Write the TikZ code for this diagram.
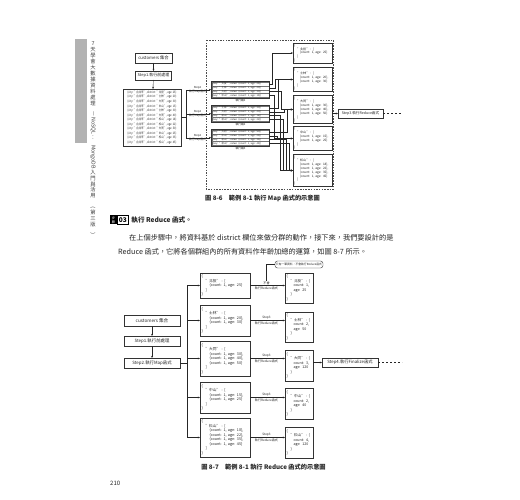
\documentclass[tikz,border=0pt]{standalone}
\usepackage{fontspec}
\setmainfont{Noto Sans CJK TC}
\usetikzlibrary{arrows.meta,fit,calc,shadows}
\newcommand\fsz[2]{\fontsize{#1}{#2}\selectfont}
\newcommand\ind[1]{\hspace*{#1pt}}
\newcommand\recline[2]{\{city: "台北市", district: "#1", age: #2\}}
\newcommand\emitline[2]{\{key: "#1", value: \{count: 1, age: #2\}\}}
\newcommand\cnt[1]{\{count: 1, age: #1\}}
\begin{document}
\begin{tikzpicture}[x=1pt,y=-1pt,
  bx/.style={draw=black!80, line width=0.45pt, fill=white, inner sep=0.6pt, outer sep=0pt, text=black!85},
  sbx/.style={bx, drop shadow={shadow xshift=0.6pt, shadow yshift=-0.6pt, fill=black!45, opacity=1}},
  arr/.style={-{Stealth[length=2.2pt,width=1.8pt]}, line width=0.4pt, draw=black!85},
  ln/.style={line width=0.4pt, draw=black!85},
  rowbox/.style={draw=black!55, line width=0.2pt, text width=56pt, minimum height=3.5pt, inner sep=0.3pt, align=left, font=\fsz{2.45}{3}, text=black!85},
  grp/.style={draw=black!80, line width=0.55pt, inner sep=0.7pt},
  lbl/.style={font=\fsz{2.8}{3.2}, inner sep=0.2pt, text=black!85},
  lblb/.style={font=\fsz{3.1}{3.5}, inner sep=0.2pt, text=black!85},
  rbx/.style={sbx, minimum width=39pt, text width=37pt, align=left, font=\fsz{3.1}{3.8}, inner sep=1pt},
  mbx/.style={sbx, text width=47pt, inner sep=1.5pt, align=left, font=\fsz{3.7}{4.5}},
  nbx/.style={sbx, text width=25pt, inner sep=1.5pt, align=left, font=\fsz{3.6}{4.5}},
  captext/.style={font=\bfseries\fsz{6.2}{7}, inner sep=0.5pt, text=black!85},
]
\fill[white] (0,0) rectangle (520,500);
\useasboundingbox (0,0) rectangle (520,500);

% ---------- side bar ----------
\fill[black!30] (75,39) rectangle (87,143);
\node[anchor=north, align=center, font=\fsz{5.3}{5.95}, inner sep=0, text=black!75] (side) at (93,42)
 {\lineskip=0pt 7\\天\\學\\會\\大\\數\\據\\資\\料\\處\\理\\\rotatebox{-90}{—}\\\rotatebox{-90}{NoSQL}\\：\\\rotatebox{-90}{MongoDB}\\入\\門\\與\\活\\用\\\rotatebox{-90}{（}\\第\\三\\版\\\rotatebox{-90}{）}};

% ---------- figure 8-6 ----------
\draw[dashed, line width=0.45pt, dash pattern=on 1.5pt off 1.2pt, black!70] (206,40) rectangle (333.5,189);

\node[sbx, minimum width=37pt, minimum height=10pt, font=\fsz{4.3}{5}] (cA) at (153.5,58) {customers 集合};
\node[sbx, minimum width=36pt, minimum height=9pt, font=\fsz{4}{5}] (sA) at (153.5,75.5) {Step1.執行前處理};
\node[sbx, minimum width=58pt, minimum height=57pt, inner sep=0.8pt, font=\fsz{3.1}{4.55}] (rec) at (152,117.5)
 {\scalebox{0.78}[1]{\begin{tabular}{@{}l@{}}
 \recline{北投}{25}\\ \recline{士林}{20}\\ \recline{大同}{30}\\ \recline{中山}{15}\\
 \recline{士林}{30}\\ \recline{大同}{40}\\ \recline{松山}{18}\\ \recline{松山}{22}\\
 \recline{大同}{50}\\ \recline{中山}{25}\\ \recline{松山}{35}\\ \recline{松山}{45}
 \end{tabular}}};
\draw[arr] (cA) -- (sA);
\draw[arr] (sA) -- (rec);

% groups
\node[rowbox] (g1a) at (240.5,84.2) {\emitline{北投}{25}};
\node[rowbox] (g1b) at (240.5,87.9) {\emitline{士林}{20}};
\node[rowbox] (g1c) at (240.5,91.6) {\emitline{大同}{30}};
\node[rowbox] (g1d) at (240.5,95.3) {\emitline{中山}{15}};
\node[grp, fit=(g1a)(g1d)] (g1) {};
\node[lbl] (g1t) at (240.5,100.4) {執行緒1};

\node[rowbox] (g2a) at (240.5,108.2) {\emitline{士林}{30}};
\node[rowbox] (g2b) at (240.5,111.9) {\emitline{大同}{40}};
\node[rowbox] (g2c) at (240.5,115.6) {\emitline{松山}{18}};
\node[rowbox] (g2d) at (240.5,119.3) {\emitline{松山}{22}};
\node[grp, fit=(g2a)(g2d)] (g2) {};
\node[lbl] (g2t) at (240.5,124.4) {執行緒2};

\node[rowbox] (g3a) at (240.5,132.2) {\emitline{大同}{50}};
\node[rowbox] (g3b) at (240.5,135.9) {\emitline{中山}{25}};
\node[rowbox] (g3c) at (240.5,139.6) {\emitline{松山}{35}};
\node[rowbox] (g3d) at (240.5,143.3) {\emitline{松山}{45}};
\node[grp, fit=(g3a)(g3d)] (g3) {};
\node[lbl] (g3t) at (240.5,148.4) {執行緒3};

\draw[ln] (rec.east) -- ++(5,0) coordinate (tA);
\draw[arr] (tA) |- (g1.west);
\draw[arr] (tA) |- (g2.west);
\draw[arr] (tA) |- (g3.west);
\node[lbl] (s2u1) at (197.5,87.6) {Step2};
\node[lbl] (s2d1) at (197.5,91.9) {執行Map函式};
\node[lbl] (s2u2) at (197.5,111.6) {Step2};
\node[lbl] (s2d2) at (197.5,115.9) {執行Map函式};
\node[lbl] (s2u3) at (197.5,135.6) {Step2};
\node[lbl] (s2d3) at (197.5,139.9) {執行Map函式};

% result boxes
\node[rbx, minimum height=20pt] (r1) at (312.5,53)
 {\{\\\ind{3}"北投" : [\\\ind{6}\cnt{25}\\\ind{3}]\\\}};
\node[rbx, minimum height=23pt] (r2) at (312.5,79.5)
 {\{\\\ind{3}"士林" : [\\\ind{6}\cnt{20},\\\ind{6}\cnt{30}\\\ind{3}]\\\}};
\node[rbx, minimum height=27pt] (r3) at (312.5,109.5)
 {\{\\\ind{3}"大同" : [\\\ind{6}\cnt{30},\\\ind{6}\cnt{40},\\\ind{6}\cnt{50}\\\ind{3}]\\\}};
\node[rbx, minimum height=23pt] (r4) at (312.5,138.5)
 {\{\\\ind{3}"中山" : [\\\ind{6}\cnt{15},\\\ind{6}\cnt{25}\\\ind{3}]\\\}};
\node[rbx, minimum height=31pt] (r5) at (312.5,170.5)
 {\{\\\ind{3}"松山" : [\\\ind{6}\cnt{18},\\\ind{6}\cnt{22},\\\ind{6}\cnt{35},\\\ind{6}\cnt{45}\\\ind{3}]\\\}};

\draw[arr] (g1a.east) -- ++(3,0) |- (r1.west);
\draw[arr] (g1b.east) -- ++(6,0) |- (r2.west);
\draw[arr] (g2a.east) -- ++(9,0) |- (r2.west);
\draw[arr] (g1c.east) -- ++(12,0) |- (r3.west);
\draw[arr] (g2b.east) -- ++(15,0) |- (r3.west);
\draw[arr] (g3a.east) -- ++(18,0) |- (r3.west);
\draw[arr] (g1d.east) -- ++(5,0) |- (r4.west);
\draw[arr] (g3b.east) -- ++(8,0) |- (r4.west);
\draw[arr] (g2c.east) -- ++(11,0) |- (r5.west);
\draw[arr] (g2d.east) -- ++(14,0) |- (r5.west);
\draw[arr] (g3c.east) -- ++(17,0) |- (r5.west);
\draw[arr] (g3d.east) -- ++(20,0) |- (r5.west);

\node[sbx, minimum width=45pt, minimum height=9pt, font=\fsz{3.6}{4.5}] (s3) at (360.5,113.5) {Step3.執行Reduce函式};
\draw[arr] (s3.west -| r3.east) -- (s3.west);
\coordinate (e1) at (402,113.5);
\draw[ln, dash pattern=on 2pt off 2pt] (s3.east) -- (e1);

\node[captext] (cap1) at (262.5,198) {圖 8-6\quad 範例 8-1 執行 Map 函式的示意圖};

% ---------- text ----------
\node[fill=black, text=white, minimum width=7pt, minimum height=9pt, inner sep=0, font=\fsz{3.2}{3.6}, align=center] (ic) at (113.5,220) {步\\驟};
\node[draw, line width=0.5pt, minimum width=11pt, minimum height=9pt, inner sep=0, font=\bfseries\fsz{6.5}{7}, anchor=west] (n03) at (ic.east) {03};
\node[anchor=west, font=\bfseries\fsz{6.6}{8}, inner sep=0.5pt, text=black!85] (hd) at ([xshift=2pt]n03.east) {執行 Reduce 函式。};
\node[anchor=west, font=\fsz{7.2}{9}, inner sep=0, text=black!85] (p1) at (129,237.5) {在上個步驟中，將資料基於 district 欄位來做分群的動作，接下來，我們要設計的是};
\node[anchor=west, font=\fsz{7.2}{9}, inner sep=0, text=black!85] (p2) at (118,251.5) {Reduce 函式，它將各個群組內的所有資料作年齡加總的運算，如圖 8-7 所示。};

% ---------- figure 8-7 ----------
\node[sbx, minimum width=56pt, minimum height=11pt, font=\fsz{4.6}{5.5}] (cB) at (152,320.5) {customers 集合};
\node[sbx, minimum width=56pt, minimum height=10pt, font=\fsz{4.4}{5.5}] (sB1) at (152,341) {Step1.執行前處理};
\node[sbx, minimum width=56pt, minimum height=10pt, font=\fsz{4.4}{5.5}] (sB2) at (152,363) {Step2.執行Map函式};
\draw[arr] (cB) -- (sB1);
\draw[arr] (sB1) -- (sB2);

\node[mbx, minimum height=25pt] (m1) at (225,285.5)
 {\{\\\ind{4}"北投" : [\\\ind{8}\cnt{25}\\\ind{4}]\\\}};
\node[mbx, minimum height=31pt] (m2) at (225,320.5)
 {\{\\\ind{4}"士林" : [\\\ind{8}\cnt{20},\\\ind{8}\cnt{30}\\\ind{4}]\\\}};
\node[mbx, minimum height=35pt] (m3) at (225,358.5)
 {\{\\\ind{4}"大同" : [\\\ind{8}\cnt{30},\\\ind{8}\cnt{40},\\\ind{8}\cnt{50}\\\ind{4}]\\\}};
\node[mbx, minimum height=31pt] (m4) at (225,397.5)
 {\{\\\ind{4}"中山" : [\\\ind{8}\cnt{15},\\\ind{8}\cnt{25}\\\ind{4}]\\\}};
\node[mbx, minimum height=39pt] (m5) at (225,437.5)
 {\{\\\ind{4}"松山" : [\\\ind{8}\cnt{18},\\\ind{8}\cnt{22},\\\ind{8}\cnt{35},\\\ind{8}\cnt{45}\\\ind{4}]\\\}};

\draw[ln] (sB2.east) -- ++(7,0) coordinate (tB);
\draw[arr] (tB) |- (m1.west);
\draw[arr] (tB) |- (m2.west);
\draw[arr] (tB) |- (m3.west);
\draw[arr] (tB) |- (m4.west);
\draw[arr] (tB) |- (m5.west);

\node[nbx, minimum height=30pt] (n1) at (299,288)
 {\{\\\ind{4}"北投" : \{\\\ind{7}count: 1,\\\ind{7}age: 25\\\ind{4}\}\\\}};
\node[nbx, minimum height=30pt] (n2) at (299,327)
 {\{\\\ind{4}"士林" : \{\\\ind{7}count: 2,\\\ind{7}age: 50\\\ind{4}\}\\\}};
\node[nbx, minimum height=31pt] (n3) at (299,365.5)
 {\{\\\ind{4}"大同" : \{\\\ind{7}count: 3,\\\ind{7}age: 120\\\ind{4}\}\\\}};
\node[nbx, minimum height=31pt] (n4) at (299,403.5)
 {\{\\\ind{4}"中山" : \{\\\ind{7}count: 2,\\\ind{7}age: 40\\\ind{4}\}\\\}};
\node[nbx, minimum height=31pt] (n5) at (299,442.5)
 {\{\\\ind{4}"松山" : \{\\\ind{7}count: 4,\\\ind{7}age: 120\\\ind{4}\}\\\}};

\draw[arr] (m1.east) -- (m1.east -| n1.west);
\draw[arr] (m2.east) -- (m2.east -| n2.west);
\draw[arr] (m3.east) -- (m3.east -| n3.west);
\draw[arr] (m4.east) -- (m4.east -| n4.west);
\draw[arr] (m5.east) -- (m5.east -| n5.west);

\node[lblb] (lb1a) at (266.5,283.1) {不會};
\node[lblb] (lb1b) at (266.5,288.0) {執行Reduce函式};
\node[lblb] (lb2a) at (266.5,318.1) {Step3};
\node[lblb] (lb2b) at (266.5,323.0) {執行Reduce函式};
\node[lblb] (lb3a) at (266.5,356.1) {Step3};
\node[lblb] (lb3b) at (266.5,361.0) {執行Reduce函式};
\node[lblb] (lb4a) at (266.5,395.1) {Step3};
\node[lblb] (lb4b) at (266.5,400.0) {執行Reduce函式};
\node[lblb] (lb5a) at (266.5,435.1) {Step3};
\node[lblb] (lb5b) at (266.5,440.0) {執行Reduce函式};

\node[draw=black!80, rounded corners=2.5pt, line width=0.4pt, minimum width=48pt, minimum height=7pt, inner sep=0.5pt, font=\fsz{2.8}{3.2}, text=black!85] (co) at (299,264.5) {只有一筆資料，不會執行Reduce函式};
\draw[ln] (co.west) -| (lb1a.north);

\node[sbx, minimum width=56pt, minimum height=9pt, font=\fsz{4.3}{5}] (s4) at (350,362.5) {Step4.執行Finalize函式};
\draw[arr] (s4.west -| n3.east) -- (s4.west);
\coordinate (e2) at (402,362.5);
\draw[ln, dash pattern=on 2pt off 2pt] (s4.east) -- (e2);

\node[captext] (cap2) at (263.5,467.5) {圖 8-7\quad 範例 8-1 執行 Reduce 函式的示意圖};

\node[anchor=west, font=\fsz{6}{7}, inner sep=0, text=black!85] (pg) at (110,483.5) {210};
\end{tikzpicture}
\end{document}
